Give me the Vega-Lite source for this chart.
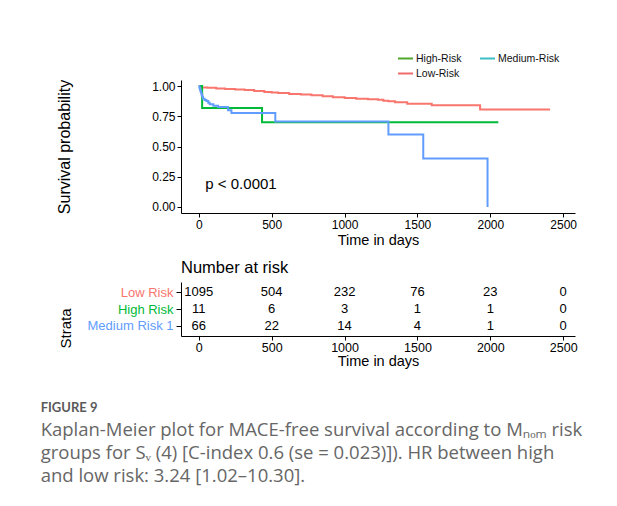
{
  "$schema": "https://vega.github.io/schema/vega-lite/v6.json",
  "background": "white",
  "padding": {"left": 40, "top": 50, "right": 5, "bottom": 5},
  "config": {
    "font": "Liberation Sans",
    "view": {"stroke": null},
    "axis": {
      "domainColor": "#000", "tickColor": "#000", "labelColor": "#000", "titleColor": "#000",
      "labelFont": "Liberation Sans", "titleFont": "Liberation Sans", "titleFontWeight": "normal",
      "grid": false, "labelFontSize": 12, "titleFontSize": 14.5, "tickSize": 4, "labelPadding": 2, "domainWidth": 1, "tickWidth": 1,
      "labelOverlap": false
    },
    "title": {"font": "Liberation Sans", "fontWeight": "normal", "color": "#000"}
  },
  "datasets": {
    "km": [
      {"group": "Low Risk", "time": 0, "surv": 1.0},
      {"group": "Low Risk", "time": 10, "surv": 0.993},
      {"group": "Low Risk", "time": 20, "surv": 0.988},
      {"group": "Low Risk", "time": 60, "surv": 0.985},
      {"group": "Low Risk", "time": 120, "surv": 0.98},
      {"group": "Low Risk", "time": 180, "surv": 0.976},
      {"group": "Low Risk", "time": 250, "surv": 0.971},
      {"group": "Low Risk", "time": 315, "surv": 0.967},
      {"group": "Low Risk", "time": 380, "surv": 0.96},
      {"group": "Low Risk", "time": 450, "surv": 0.951},
      {"group": "Low Risk", "time": 500, "surv": 0.946},
      {"group": "Low Risk", "time": 544, "surv": 0.942},
      {"group": "Low Risk", "time": 620, "surv": 0.935},
      {"group": "Low Risk", "time": 700, "surv": 0.93},
      {"group": "Low Risk", "time": 773, "surv": 0.923},
      {"group": "Low Risk", "time": 850, "surv": 0.915},
      {"group": "Low Risk", "time": 920, "surv": 0.908},
      {"group": "Low Risk", "time": 1001, "surv": 0.901},
      {"group": "Low Risk", "time": 1080, "surv": 0.895},
      {"group": "Low Risk", "time": 1160, "surv": 0.89},
      {"group": "Low Risk", "time": 1230, "surv": 0.887},
      {"group": "Low Risk", "time": 1266, "surv": 0.879},
      {"group": "Low Risk", "time": 1301, "surv": 0.874},
      {"group": "Low Risk", "time": 1347, "surv": 0.866},
      {"group": "Low Risk", "time": 1430, "surv": 0.854},
      {"group": "Low Risk", "time": 1598, "surv": 0.841},
      {"group": "Low Risk", "time": 1930, "surv": 0.805},
      {"group": "Low Risk", "time": 2410, "surv": 0.805},
      {"group": "High Risk", "time": 0, "surv": 1.0},
      {"group": "High Risk", "time": 23, "surv": 0.818},
      {"group": "High Risk", "time": 434, "surv": 0.70},
      {"group": "High Risk", "time": 2055, "surv": 0.70},
      {"group": "Medium Risk 1", "time": 0, "surv": 1.0},
      {"group": "Medium Risk 1", "time": 4, "surv": 0.985},
      {"group": "Medium Risk 1", "time": 8, "surv": 0.97},
      {"group": "Medium Risk 1", "time": 12, "surv": 0.955},
      {"group": "Medium Risk 1", "time": 16, "surv": 0.94},
      {"group": "Medium Risk 1", "time": 20, "surv": 0.924},
      {"group": "Medium Risk 1", "time": 25, "surv": 0.909},
      {"group": "Medium Risk 1", "time": 29, "surv": 0.895},
      {"group": "Medium Risk 1", "time": 40, "surv": 0.885},
      {"group": "Medium Risk 1", "time": 52, "surv": 0.876},
      {"group": "Medium Risk 1", "time": 65, "surv": 0.862},
      {"group": "Medium Risk 1", "time": 75, "surv": 0.849},
      {"group": "Medium Risk 1", "time": 100, "surv": 0.838},
      {"group": "Medium Risk 1", "time": 132, "surv": 0.827},
      {"group": "Medium Risk 1", "time": 201, "surv": 0.80},
      {"group": "Medium Risk 1", "time": 224, "surv": 0.777},
      {"group": "Medium Risk 1", "time": 525, "surv": 0.706},
      {"group": "Medium Risk 1", "time": 1301, "surv": 0.60},
      {"group": "Medium Risk 1", "time": 1540, "surv": 0.40},
      {"group": "Medium Risk 1", "time": 1981, "surv": 0.0}
    ],
    "risk": [
      {"group": "Low Risk", "time": 0, "n": 1095},
      {"group": "Low Risk", "time": 500, "n": 504},
      {"group": "Low Risk", "time": 1000, "n": 232},
      {"group": "Low Risk", "time": 1500, "n": 76},
      {"group": "Low Risk", "time": 2000, "n": 23},
      {"group": "Low Risk", "time": 2500, "n": 0},
      {"group": "High Risk", "time": 0, "n": 11},
      {"group": "High Risk", "time": 500, "n": 6},
      {"group": "High Risk", "time": 1000, "n": 3},
      {"group": "High Risk", "time": 1500, "n": 1},
      {"group": "High Risk", "time": 2000, "n": 1},
      {"group": "High Risk", "time": 2500, "n": 0},
      {"group": "Medium Risk 1", "time": 0, "n": 66},
      {"group": "Medium Risk 1", "time": 500, "n": 22},
      {"group": "Medium Risk 1", "time": 1000, "n": 14},
      {"group": "Medium Risk 1", "time": 1500, "n": 4},
      {"group": "Medium Risk 1", "time": 2000, "n": 1},
      {"group": "Medium Risk 1", "time": 2500, "n": 0}
    ],
    "legendkeys": [
      {"key": "High-Risk", "time": 0, "surv": 1},
      {"key": "Medium-Risk", "time": 0, "surv": 1},
      {"key": "Low-Risk", "time": 0, "surv": 1}
    ]
  },
  "title": {
    "text": "FIGURE 9",
    "subtitle": [
      "Kaplan-Meier plot for MACE-free survival according to Mₙₒₘ risk",
      "groups for Sᵥ (4) [C-index 0.6 (se = 0.023)]). HR between high",
      "and low risk: 3.24 [1.02–10.30]."
    ],
    "orient": "bottom",
    "anchor": "start",
    "frame": "bounds",
    "offset": 34,
    "dx": -16,
    "font": "Lato",
    "fontSize": 13,
    "fontWeight": "bold",
    "color": "#5a5a5a",
    "subtitleFont": "Open Sans",
    "subtitleFontSize": 18.5,
    "subtitleColor": "#666666",
    "subtitleLineHeight": 23,
    "subtitlePadding": 6
  },
  "spacing": 12,
  "vconcat": [
    {
      "width": 394,
      "height": 133,
      "encoding": {
        "x": {
          "field": "time", "type": "quantitative",
          "scale": {"domain": [-122, 2581], "nice": false, "zero": false},
          "axis": {"values": [0, 500, 1000, 1500, 2000, 2500], "format": "d", "title": "Time in days", "titlePadding": 3, "labelFlush": false}
        },
        "y": {
          "field": "surv", "type": "quantitative",
          "scale": {"domain": [-0.05, 1.05], "nice": false, "zero": false},
          "axis": {"values": [0, 0.25, 0.5, 0.75, 1], "format": ".2f", "title": "Survival probability", "titleFontSize": 16, "titlePadding": 79, "labelFlush": false}
        }
      },
      "layer": [
        {
          "data": {"name": "km"},
          "mark": {"type": "line", "interpolate": "step-after", "strokeWidth": 2},
          "encoding": {
            "stroke": {
              "field": "group", "type": "nominal",
              "scale": {"domain": ["Low Risk", "High Risk", "Medium Risk 1"], "range": ["#F8766D", "#00BA38", "#619CFF"]},
              "legend": null
            },
            "order": {"field": "time", "type": "quantitative"}
          }
        },
        {
          "data": {"values": [{"time": 45, "surv": 0.19, "label": "p < 0.0001"}]},
          "mark": {"type": "text", "align": "left", "baseline": "middle", "fontSize": 15, "font": "Liberation Sans", "color": "#000"},
          "encoding": {
            "text": {"field": "label"}
          }
        },
        {
          "data": {"name": "legendkeys"},
          "transform": [{"filter": "false"}],
          "mark": {"type": "line", "strokeWidth": 2},
          "encoding": {
            "color": {
              "field": "key", "type": "nominal",
              "scale": {"domain": ["High-Risk", "Medium-Risk", "Low-Risk"], "range": ["#4fa82c", "#3cbfc6", "#f06b6b"]},
              "legend": {
                "orient": "none", "legendX": 216, "legendY": -30, "columns": 2, "direction": "horizontal", "title": null,
                "symbolType": "stroke", "symbolStrokeWidth": 2, "symbolSize": 225,
                "labelFont": "Liberation Sans", "labelFontSize": 10.5, "labelColor": "#111",
                "columnPadding": 14, "rowPadding": 1, "labelOffset": 2, "padding": 0
              }
            }
          }
        }
      ]
    },
    {
      "width": 394,
      "height": 54,
      "title": {"text": "Number at risk", "anchor": "start", "frame": "group", "fontSize": 16.5, "offset": 6},
      "data": {"name": "risk"},
      "mark": {"type": "text", "fontSize": 13, "color": "#000", "baseline": "middle"},
      "encoding": {
        "x": {
          "field": "time", "type": "quantitative",
          "scale": {"domain": [-122, 2581], "nice": false, "zero": false},
          "axis": {"values": [0, 500, 1000, 1500, 2000, 2500], "format": "d", "title": "Time in days", "titlePadding": 1, "labelPadding": 1, "labelFontSize": 12.5, "labelFlush": false}
        },
        "y": {
          "field": "group", "type": "nominal",
          "scale": {"domain": ["Low Risk", "High Risk", "Medium Risk 1"], "padding": 0.59},
          "axis": {
            "title": "Strata", "titleFontSize": 15, "titlePadding": 14, "titleY": 46,
            "labelFontSize": 13, "tickSize": 5, "labelPadding": 3,
            "labelColor": {
              "condition": [
                {"test": "datum.value === 'Low Risk'", "value": "#F8766D"},
                {"test": "datum.value === 'High Risk'", "value": "#00BA38"}
              ],
              "value": "#619CFF"
            }
          }
        },
        "text": {"field": "n", "type": "quantitative"}
      }
    }
  ]
}
